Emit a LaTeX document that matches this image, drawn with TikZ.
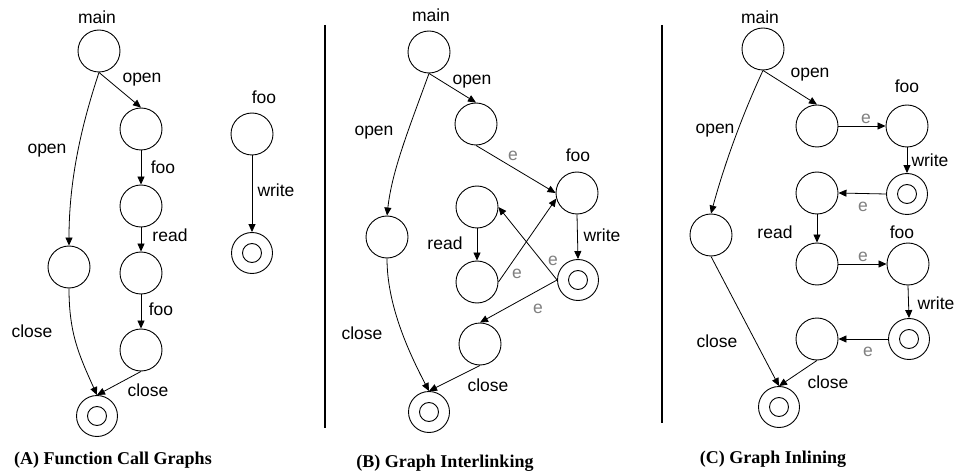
\documentclass[tikz,border=0pt]{standalone}
\usepackage{fontspec}
\setmainfont{Liberation Sans}
\newfontfamily\capfont{Liberation Serif}
\usetikzlibrary{arrows.meta}
\begin{document}
\begin{tikzpicture}[x=1pt,y=-1pt,
  st/.style={circle,draw,line width=0.9pt,minimum size=42pt,inner sep=0pt},
  fin/.style={circle,draw,line width=0.9pt,minimum size=41pt,inner sep=0pt,
    path picture={\draw[line width=0.9pt] (path picture bounding box.center) circle (9.5pt);}},
  lab/.style={font=\fontsize{17.5}{20}\selectfont,inner sep=0pt},
  elab/.style={font=\fontsize{17.5}{20}\selectfont,text=black!50,inner sep=0pt},
  captxt/.style={font=\capfont\bfseries\fontsize{18}{21}\selectfont,inner sep=0pt},
  conn/.style={line width=0.8pt,-{Triangle[length=8pt,width=7pt]}},
  sepline/.style={line width=2.2pt}
]
\fill[white] (0,0) rectangle (956,473);
\useasboundingbox (0,0) rectangle (956,473);

% ---------------- Panel A ----------------
\node[lab] (tA1) at (97,17) {main};
\node[st] (A1) at (99,51) {};
\node[st] (A2) at (141,129) {};
\node[st] (A3) at (141,206) {};
\node[st] (A4) at (141,273) {};
\node[st] (A5) at (141,350) {};
\node[st] (A6) at (69,267) {};
\node[fin] (A7) at (97,416) {};
\node[lab] (lA1) at (142,80) {open};
\node[lab] (lA2) at (163,167) {foo};
\node[lab] (lA3) at (170,235) {read};
\node[lab] (lA4) at (161,309) {foo};
\node[lab] (lA5) at (148,390) {close};
\node[lab] (lA6) at (47,151) {open};
\node[lab] (lA7) at (32,331) {close};
\draw[conn] (A1.south) -- (A2.north);
\draw[conn] (A2.south) -- (A3.north);
\draw[conn] (A3.south) -- (A4.north);
\draw[conn] (A4.south) -- (A5.north);
\draw[conn] (A5.south) -- (A7.north);
\draw[conn] (A1.south) .. controls +(-20,60) and +(0,-60) .. (A6.north);
\draw[conn] (A6.south) .. controls +(0,45) and +(-18,-40) .. (A7.north);

\node[lab] (tF) at (264,97) {foo};
\node[st] (F1) at (252,134) {};
\node[fin] (F2) at (252,253) {};
\node[lab] (lF) at (276,190) {write};
\draw[conn] (F1.south) -- (F2.north);

\node[captxt] (capA) at (113,460) {(A) Function Call Graphs};

% ---------------- Panel B ----------------
\coordinate (s1a) at (325,25);
\coordinate (s1b) at (325,428);
\draw[sepline] (s1a) -- (s1b);

\node[lab] (tB1) at (431,15) {main};
\node[st] (B1) at (429,52) {};
\node[st] (B2) at (476,124) {};
\node[st] (B3) at (477,207) {};
\node[st] (B4) at (477,282) {};
\node[st] (B5) at (480,344) {};
\node[st] (B6) at (387,237) {};
\node[fin] (B7) at (429,412) {};
\node[lab] (tBf) at (578,155) {foo};
\node[st] (Bf) at (577,193) {};
\node[fin] (Bff) at (578,280) {};
\node[lab] (lB1) at (472,82) {open};
\node[lab] (lB2) at (374,133) {open};
\node[lab] (lB3) at (445,243) {read};
\node[lab] (lB4) at (602,235) {write};
\node[lab] (lB5) at (362,333) {close};
\node[lab] (lB6) at (488,385) {close};
\node[elab] (eB1) at (513,156) {e};
\node[elab] (eB2) at (517,274) {e};
\node[elab] (eB3) at (553,261) {e};
\node[elab] (eB4) at (538,309) {e};
\draw[conn] (B1.south) -- (B2.north);
\draw[conn] (B2.south) -- (Bf.west);
\draw[conn] (B3.south) -- (B4.north);
\draw[conn] (Bf.south) -- (Bff.north);
\draw[conn] (B4.east) -- (Bf.195);
\draw[conn] (Bff.west) -- (B3.east);
\draw[conn] (Bff.west) -- (B5.north);
\draw[conn] (B5.south) -- (B7.north);
\draw[conn] (B1.south) .. controls +(-20,55) and +(5,-45) .. (B6.north);
\draw[conn] (B6.south) .. controls +(0,45) and +(-22,-42) .. (B7.north);

\node[captxt] (capB) at (445,463) {(B) Graph Interlinking};

% ---------------- Panel C ----------------
\coordinate (s2a) at (662,25);
\coordinate (s2b) at (662,423);
\draw[sepline] (s2a) -- (s2b);

\node[lab] (tC1) at (760,17) {main};
\node[st] (C1) at (763,49) {};
\node[st] (C2) at (817,126) {};
\node[st] (C4) at (817,193) {};
\node[st] (C5) at (817,264) {};
\node[st] (C6) at (711,235) {};
\node[st] (C7) at (817,339) {};
\node[fin] (C8) at (779,407) {};
\node[lab] (tCf) at (907,86) {foo};
\node[st] (Cf) at (907,126) {};
\node[fin] (Cff) at (907,194) {};
\node[lab] (tCg) at (902,232) {foo};
\node[st] (Cg) at (908,264) {};
\node[fin] (Cgg) at (909,339) {};
\node[lab] (lC1) at (810,75) {open};
\node[lab] (lC2) at (715,131) {open};
\node[lab] (lC3) at (930,160) {write};
\node[lab] (lC4) at (775,232) {read};
\node[lab] (lC5) at (936,303) {write};
\node[lab] (lC6) at (717,341) {close};
\node[lab] (lC7) at (828,382) {close};
\node[elab] (eC1) at (866,119) {e};
\node[elab] (eC2) at (863,207) {e};
\node[elab] (eC3) at (863,257) {e};
\node[elab] (eC4) at (868,352) {e};
\draw[conn] (C1.south) -- (C2.north);
\draw[conn] (C1.south) .. controls +(-21,45) and +(13,-48) .. (C6.north);
\draw[conn] (C2.east) -- (Cf.west);
\draw[conn] (Cf.south) -- (Cff.north);
\draw[conn] (Cff.west) -- (C4.east);
\draw[conn] (C4.south) -- (C5.north);
\draw[conn] (C5.east) -- (Cg.west);
\draw[conn] (Cg.south) -- (Cgg.north);
\draw[conn] (Cgg.west) -- (C7.east);
\draw[conn] (C6.south) -- (C8.north);
\draw[conn] (C7.south) -- (C8.north);

\node[captxt] (capC) at (773,459) {(C) Graph Inlining};
\end{tikzpicture}
\end{document}
